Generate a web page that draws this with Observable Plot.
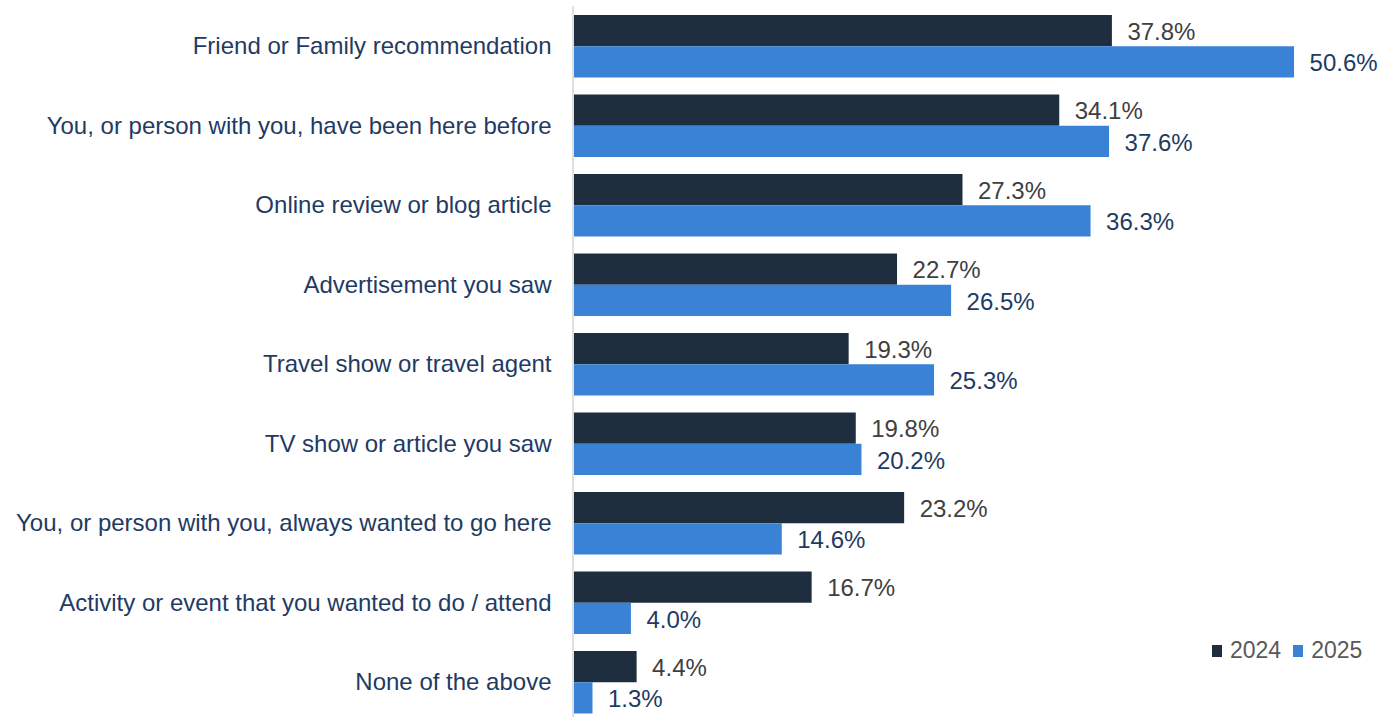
<!DOCTYPE html>
<html><head><meta charset="utf-8">
<script src="https://cdn.jsdelivr.net/npm/d3@7"></script>
<script src="https://cdn.jsdelivr.net/npm/@observablehq/plot@0.6"></script>
<style>
body{margin:0;overflow:hidden;background:#fff;font-family:"Liberation Sans",Arial,sans-serif;}
#wrap{position:relative;width:1381px;height:717px;overflow:hidden;}
#legend{position:absolute;left:1212px;top:637px;font-size:23px;color:#595959;display:flex;align-items:center;}
.sw{display:inline-block;width:10px;height:12px;margin-right:8px;}
.item{display:flex;align-items:center;margin-right:12px;}
</style></head><body><div id="wrap"><div id="legend"></div></div>
<script>
const categories = [
  "Friend or Family recommendation",
  "You, or person with you, have been here before",
  "Online review or blog article",
  "Advertisement you saw",
  "Travel show or travel agent",
  "TV show or article you saw",
  "You, or person with you, always wanted to go here",
  "Activity or event that you wanted to do / attend",
  "None of the above"
];
const years = ["2024", "2025"];
const values2024 = [37.8, 34.1, 27.3, 22.7, 19.3, 19.8, 23.2, 16.7, 4.4];
const values2025 = [50.6, 37.6, 36.3, 26.5, 25.3, 20.2, 14.6, 4.0, 1.3];
const barColors = ["#1e2e3e", "#3a82d6"];
const labelColors = ["#404040", "#1f3b63"];

const data = categories.flatMap((c, i) => [
  {category: c, year: years[0], value: values2024[i]},
  {category: c, year: years[1], value: values2025[i]}
]);

const chart = Plot.plot({
  width: 1381,
  height: 722,
  marginTop: 6.5,
  marginBottom: 0,
  marginLeft: 574,
  marginRight: 0,
  style: {fontFamily: '"Liberation Sans", Arial, sans-serif', fontSize: "24px", color: "#1f3b63", background: "#fff", overflow: "visible"},
  x: {domain: [0, 56.71], axis: null},
  y: {domain: years, axis: null, padding: 0, round: false},
  fy: {domain: categories, paddingInner: 0.214, paddingOuter: 0.107, round: false, label: null, tickSize: 0, tickPadding: 23, fontSize: 24},
  color: {domain: years, range: barColors},
  marks: [
    Plot.barX(data, {fy: "category", y: "year", x: "value", fill: "year"}),
    Plot.text(data.filter(d => d.year === years[0]), {fy: "category", y: "year", x: "value", text: d => d.value.toFixed(1) + "%", textAnchor: "start", dx: 15, dy: 1, fill: labelColors[0], fontSize: 24}),
    Plot.text(data.filter(d => d.year === years[1]), {fy: "category", y: "year", x: "value", text: d => d.value.toFixed(1) + "%", textAnchor: "start", dx: 15, dy: 1, fill: labelColors[1], fontSize: 24}),
    Plot.ruleX([0], {stroke: "#d9d9d9", strokeWidth: 1.6, dx: -1.5, insetTop: -9, insetBottom: -9})
  ]
});
const wrap = document.getElementById("wrap");
wrap.insertBefore(chart, wrap.firstChild);

const legend = document.getElementById("legend");
years.forEach((y, i) => {
  const item = document.createElement("span");
  item.className = "item";
  const sw = document.createElement("span");
  sw.className = "sw";
  sw.style.background = barColors[i];
  item.appendChild(sw);
  item.appendChild(document.createTextNode(y));
  legend.appendChild(item);
});
</script>
</body></html>
